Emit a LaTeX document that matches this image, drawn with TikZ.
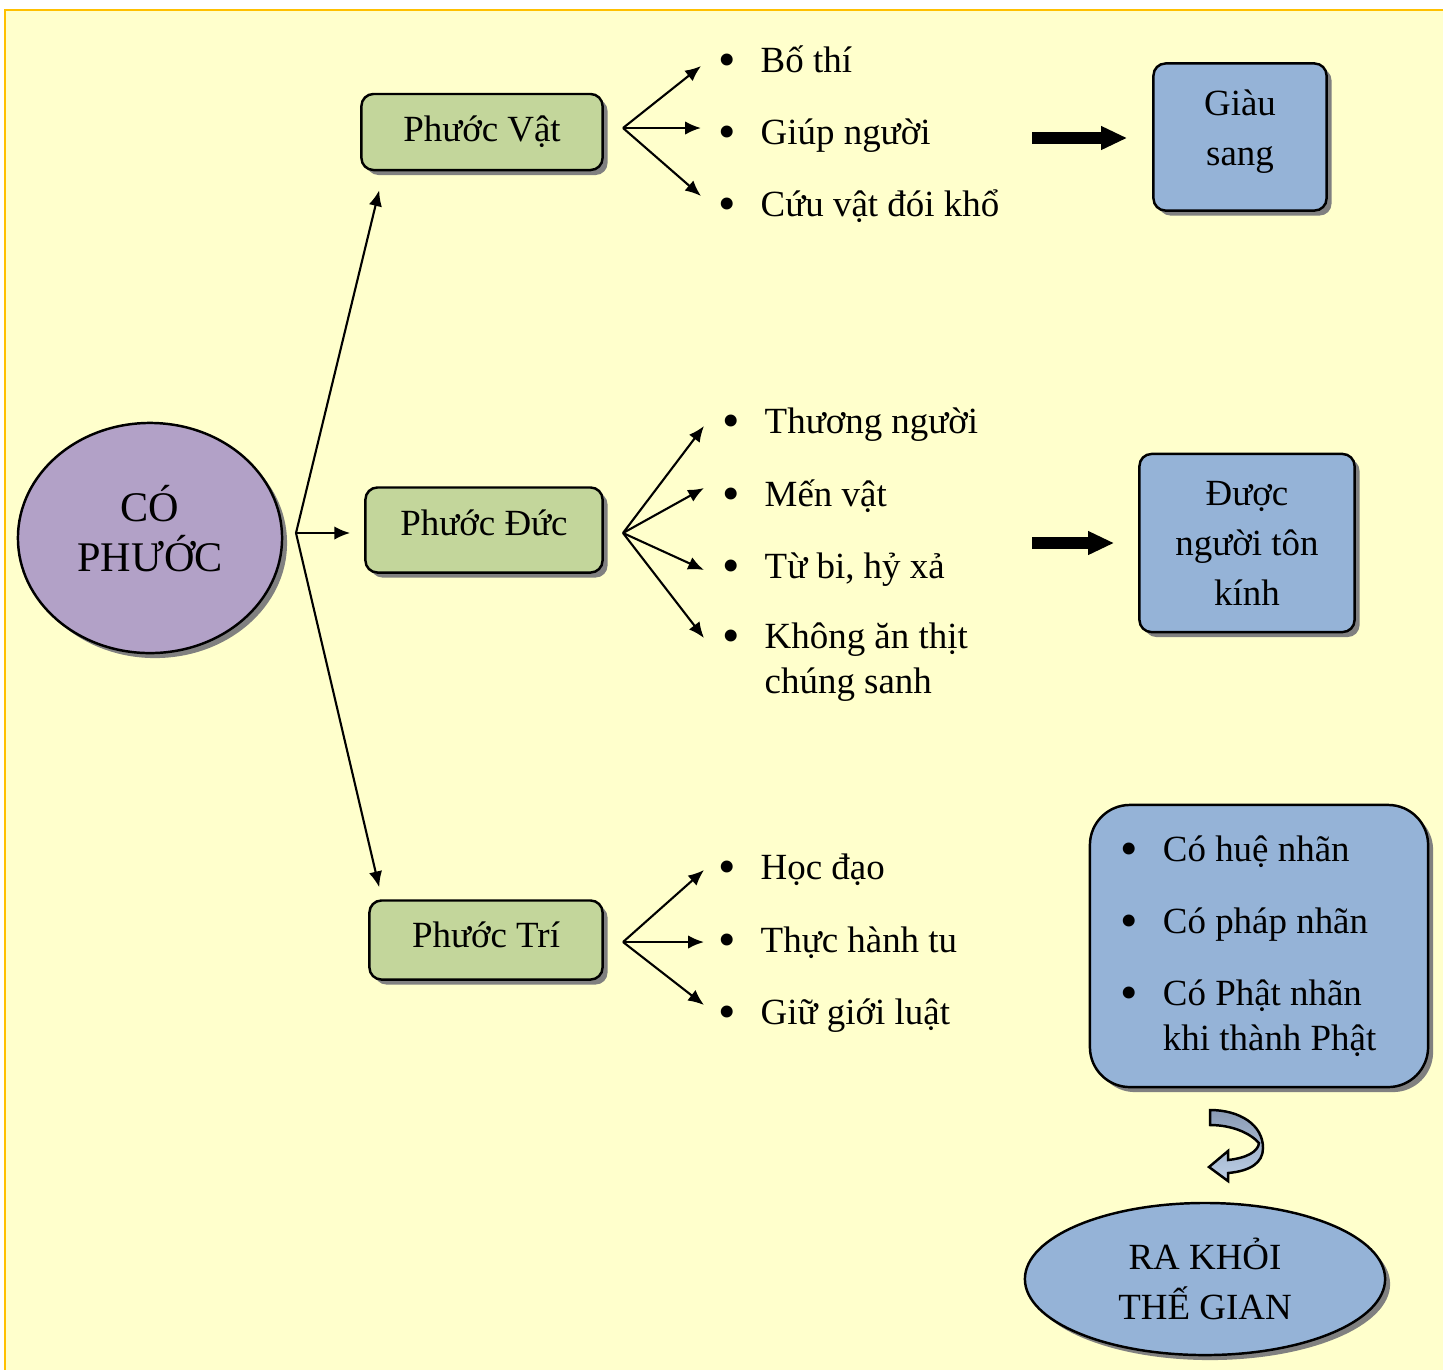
\documentclass[tikz,border=0pt]{standalone}
\usepackage{fontspec}
\setmainfont{Liberation Serif}
\usetikzlibrary{positioning,arrows.meta,shapes.geometric,shadows}
\definecolor{bgyellow}{HTML}{FFFFCC}
\definecolor{frameorange}{HTML}{FFC000}
\definecolor{lavender}{HTML}{B2A1C7}
\definecolor{olivegreen}{HTML}{C3D69B}
\definecolor{steelblue}{HTML}{95B3D7}
\definecolor{shadowgray}{HTML}{808080}
\definecolor{turntop}{HTML}{8A9BB5}
\definecolor{turnbot}{HTML}{BCCFE6}
\newcommand{\itm}[1]{\makebox[0.42cm][l]{\raisebox{-0.04cm}{\scalebox{1.35}{\textbullet}}}#1}

\begin{document}
\begin{tikzpicture}[x=0.01cm,y=-0.01cm, >={Latex[length=4.5pt,width=3.8pt]},
  shade/.style={drop shadow={shadow xshift=0.05cm,shadow yshift=-0.05cm,fill=shadowgray,opacity=1}},
  box/.style={draw,line width=0.7pt,rounded corners=0.12cm,align=center,inner sep=0pt,
    font=\fontsize{10.5}{14.2}\selectfont,shade},
  oval/.style={ellipse,draw,line width=0.7pt,align=center,inner sep=0pt,shade},
  item/.style={anchor=base west,inner sep=0pt,align=left,font=\fontsize{10.5}{12.6}\selectfont},
  link/.style={->,line width=0.6pt},
  fat/.style={line width=3.2pt,-{Triangle[length=0.26cm,width=0.22cm]}}]
\useasboundingbox (0,0) rectangle (1443,1369);
\fill[bgyellow,draw=frameorange,line width=0.6pt] (5,10) rectangle (1470,1400);

% main idea and the three kinds
\node[oval,fill=lavender,minimum width=2.64cm,minimum height=2.30cm,text depth=0.2cm,
  font=\fontsize{12}{14.2}\selectfont] (cp) at (150,538) {CÓ\\PHƯỚC};
\node[box,fill=olivegreen,minimum width=2.41cm,minimum height=0.76cm] (pv) at (482,132) {Phước Vật};
\node[box,fill=olivegreen,minimum width=2.37cm,minimum height=0.85cm,text depth=0.14cm] (pd) at (484,530) {Phước Đức};
\node[box,fill=olivegreen,minimum width=2.33cm,minimum height=0.79cm,text depth=0.1cm] (pt) at (486,940) {Phước Trí};

% items
\node[item] (v1) at (718,72) {\itm{Bố thí}};
\node[item] (v2) at (718,144) {\itm{Giúp người}};
\node[item] (v3) at (718,216) {\itm{Cứu vật đói khổ}};
\node[item] (d1) at (722,433) {\itm{Thương người}};
\node[item] (d2) at (722,506) {\itm{Mến vật}};
\node[item] (d3) at (722,578) {\itm{Từ bi, hỷ xả}};
\node[item] (d4) at (722,693) {\itm{Không ăn thịt}\\\hspace*{0.42cm}chúng sanh};
\node[item] (t1) at (718,879) {\itm{Học đạo}};
\node[item] (t2) at (718,952) {\itm{Thực hành tu}};
\node[item] (t3) at (718,1024) {\itm{Giữ giới luật}};

% results
\node[box,fill=steelblue,minimum width=1.73cm,minimum height=1.47cm,text depth=0.18cm] (gs) at (1240,137) {Giàu\\sang};
\node[box,fill=steelblue,minimum width=2.15cm,minimum height=1.78cm] (dn) at (1247,543) {Được\\người tôn\\kính};
\node[box,fill=steelblue,rounded corners=0.4cm,minimum width=3.38cm,minimum height=2.82cm,
  text width=2.76cm,align=flush left,font=\fontsize{10.5}{12.6}\selectfont] (mt) at (1259,946)
  {\itm{Có huệ nhãn}\\[0.28cm]\itm{Có pháp nhãn}\\[0.28cm]\itm{Có Phật nhãn}\\\hspace*{0.42cm}khi thành Phật};
\node[oval,fill=steelblue,minimum width=3.60cm,minimum height=1.52cm,
  font=\fontsize{10.5}{14.2}\selectfont] (rk) at (1205,1279) {RA KHỎI\\THẾ GIAN};

% connectors
\coordinate (cp-o) at (296,533);
\draw[link] (cp-o) -- ([xshift=0.19cm,yshift=-0.19cm]pv.south west);
\draw[link] (cp-o) -- ([xshift=-0.14cm]pd.west |- cp-o);
\draw[link] (cp-o) -- ([xshift=0.11cm,yshift=0.12cm]pt.north west);

\coordinate (pv-o) at (623,128); \coordinate (pd-o) at (623,533); \coordinate (pt-o) at (623,942);
\coordinate (v1-i) at (701,66); \coordinate (v2-i) at (701,128); \coordinate (v3-i) at (701,196);
\coordinate (d1-i) at (704,426); \coordinate (d2-i) at (704,488); \coordinate (d3-i) at (704,570);
\coordinate (d4-i) at (704,638);
\coordinate (t1-i) at (704,870); \coordinate (t2-i) at (704,942); \coordinate (t3-i) at (704,1005);
\draw[link] (pv-o) -- (v1-i); \draw[link] (pv-o) -- (v2-i); \draw[link] (pv-o) -- (v3-i);
\draw[link] (pd-o) -- (d1-i); \draw[link] (pd-o) -- (d2-i); \draw[link] (pd-o) -- (d3-i);
\draw[link] (pd-o) -- (d4-i);
\draw[link] (pt-o) -- (t1-i); \draw[link] (pt-o) -- (t2-i); \draw[link] (pt-o) -- (t3-i);

\coordinate (gs-s) at (1032,138); \coordinate (dn-s) at (1032,543);
\draw[fat] (gs-s) -- ([xshift=-0.25cm]gs.west |- gs-s);
\draw[fat] (dn-s) -- ([xshift=-0.24cm]dn.west |- dn-s);

% turn arrow
\draw[line width=0.7pt,top color=turntop,bottom color=turnbot]
  (1210,1110) .. controls (1240,1110) and (1263,1125) .. (1263,1148)
  .. controls (1263,1163) and (1250,1171) .. (1228,1173) -- (1228,1181) -- (1209,1167)
  -- (1228,1151) -- (1228,1160) .. controls (1246,1158) and (1258,1152) .. (1259,1143)
  .. controls (1250,1133) and (1232,1125) .. (1210,1125) -- cycle;
\end{tikzpicture}
\end{document}
